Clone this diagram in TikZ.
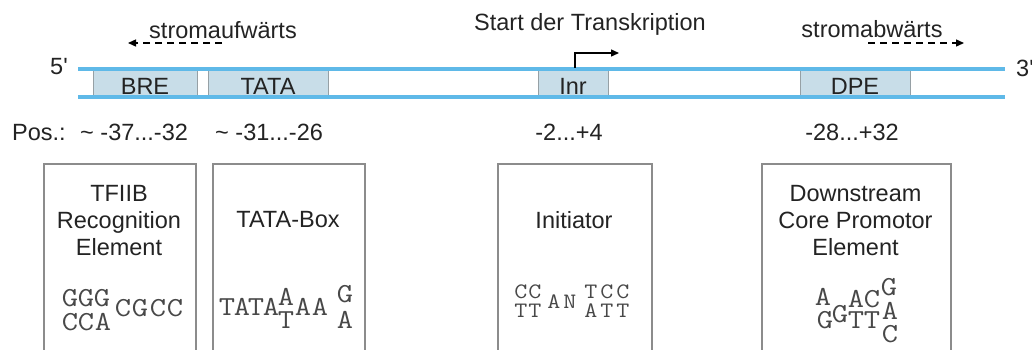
\documentclass[tikz,border=0pt]{standalone}
\usepackage{fontspec}
\usepackage{graphicx}
\setmainfont{Liberation Sans}
\usetikzlibrary{arrows.meta}
\definecolor{dna}{RGB}{95,185,232}
\definecolor{elem}{RGB}{200,221,232}
\definecolor{elemborder}{RGB}{150,160,165}
\definecolor{boxline}{RGB}{140,140,140}
\definecolor{txtc}{RGB}{35,35,35}
\definecolor{seqc}{RGB}{72,72,72}
\newcommand\wide[1]{\scalebox{1.15}[1]{#1}}
\begin{document}
\begin{tikzpicture}[x=1pt,y=-1pt,
  every node/.style={inner sep=0pt},
  txt/.style={font=\fontsize{23.5}{27}\selectfont, text=txtc},
  elembox/.style={draw=elemborder, fill=elem, line width=0.8pt, minimum height=28pt},
  elemlbl/.style={txt, anchor=base},
  strand/.style={draw=dna, line width=3.5pt},
  infobox/.style={draw=boxline, line width=1.6pt, anchor=north west, minimum height=200pt},
  boxtxt/.style={txt, align=center, anchor=north},
  seq/.style={font=\ttfamily\fontsize{27.5}{27.5}\selectfont, text=seqc},
  seqs/.style={font=\ttfamily\fontsize{22}{22}\selectfont, text=seqc},
  dir/.style={line width=1.4pt, dash pattern=on 7pt off 5pt, -{Triangle[length=8pt,width=7pt]}},
]
\useasboundingbox (0,0) rectangle (1032,349);

% promoter elements
\node[elembox, minimum width=104pt] (bre) at (145,83) {};
\node[elembox, minimum width=120pt] (tata) at (268,83) {};
\node[elembox, minimum width=70pt] (inr) at (573,83) {};
\node[elembox, minimum width=110pt] (dpe) at (855,83) {};

% DNA strands
\coordinate (t1) at (78,69);  \coordinate (t2) at (1005,69);
\coordinate (b1) at (78,97);  \coordinate (b2) at (1005,97);
\draw[strand] (t1) -- (t2);
\draw[strand] (b1) -- (b2);

\node[elemlbl] (brel) at (145,94.5) {BRE};
\node[elemlbl] (tatal) at (268,94.5) {TATA};
\node[elemlbl] (inrl) at (573,94.5) {Inr};
\node[elemlbl] (dpel) at (855,94.5) {DPE};

\node[txt, anchor=base west] (p5) at (50,74) {5\textquotesingle};
\node[txt, anchor=base west] (p3) at (1016,76) {3\textquotesingle};

% directions
\node[txt, anchor=base] (up) at (223,38) {stromaufwärts};
\coordinate (upA) at (222,43); \coordinate (upB) at (128,43);
\draw[dir] (upA) -- (upB);
\node[txt, anchor=base] (down) at (872,37) {stromabwärts};
\coordinate (dnA) at (868,43); \coordinate (dnB) at (964,43);
\draw[dir] (dnA) -- (dnB);

% transcription start
\node[txt, anchor=base] (start) at (590,30) {Start der Transkription};
\coordinate (tss) at (575,67.5); \coordinate (tssE) at (619,53);
\draw[line width=1.4pt, -{Triangle[length=8pt,width=7pt]}] (tss) |- (tssE);

% positions
\node[txt, anchor=base west] (pos) at (12,140) {Pos.:};
\node[txt, anchor=base west] (pos1) at (80,140) {\textasciitilde\ -37...-32};
\node[txt, anchor=base west] (pos2) at (215,140) {\textasciitilde\ -31...-26};
\node[txt, anchor=base] (pos3) at (569,140) {-2...+4};
\node[txt, anchor=base] (pos4) at (852,140) {-28...+32};

% info boxes
\node[infobox, minimum width=152pt] (box1) at (43,163) {};
\node[infobox, minimum width=152pt] (box2) at (212,163) {};
\node[infobox, minimum width=154pt] (box3) at (497,163) {};
\node[infobox, minimum width=189pt] (box4) at (761,163) {};

\node[boxtxt] (n1) at (119,185) {TFIIB\\Recognition\\Element};
\node[boxtxt] (n2) at (288,211) {TATA-Box};
\node[boxtxt] (n3) at (574,211) {Initiator};
\node[boxtxt] (n4) at (855.5,185) {Downstream\\Core Promotor\\Element};

% sequences (one node per letter)
\foreach \n/\x/\y/\c in {
  a1/70/298/G, a2/86/298/G, a3/102/298/G,
  a4/70/322/C, a5/86/322/C, a6/103/322/A,
  a7/123/308/C, a8/140/308/G, a9/158/308/C, a10/175/308/C,
  b1/227/307/T, b2/242/307/A, b3/256/307/T, b4/271/307/A,
  b5/286/297/A, b6/286/320/T,
  b7/303/307/A, b8/320/307/A,
  b9/345/294/G, b10/345/320/A,
  d1/823/297/A, d2/825/320/G, d3/840/314/G,
  d4/856/299/A, d5/872/299/C, d6/856/320/T, d7/872/320/T,
  d8/889/287/G, d9/890/311/A, d10/890/334/C}
  \node[seq] (\n) at (\x,\y) {\wide{\c}};
\foreach \n/\x/\y/\c in {
  c1/521/292/C, c2/535/292/C, c3/521/311/T, c4/535/311/T,
  c5/554/302/A, c6/570/302/N,
  c7/591/292/T, c8/607/292/C, c9/623/292/C,
  c10/591/311/A, c11/607/311/T, c12/623/311/T}
  \node[seqs] (\n) at (\x,\y) {\wide{\c}};
\end{tikzpicture}
\end{document}
